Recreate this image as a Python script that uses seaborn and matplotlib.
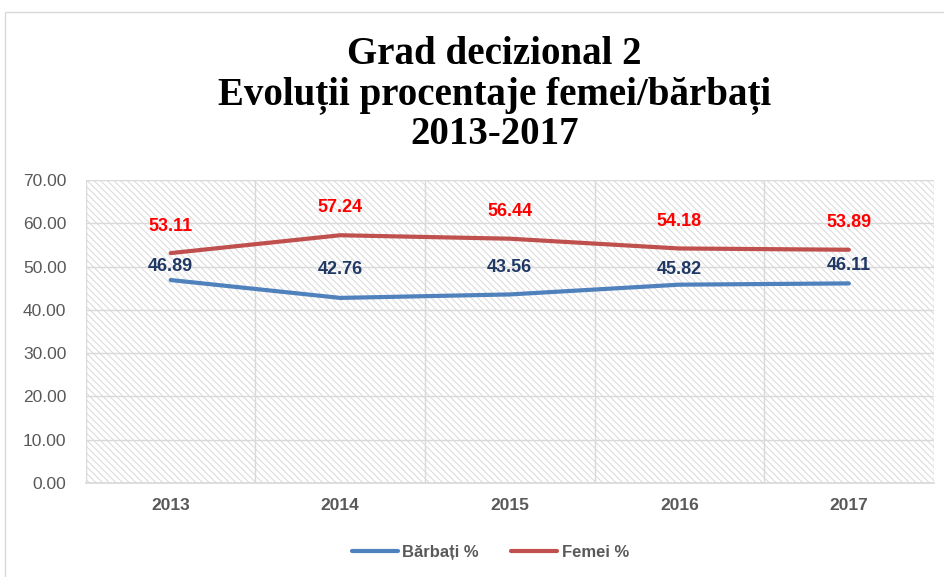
import matplotlib
matplotlib.use("Agg")
import matplotlib.pyplot as plt
import seaborn as sns
import pandas as pd
from matplotlib.patches import Rectangle

# data
years = ["2013", "2014", "2015", "2016", "2017"]
barbati = [46.89, 42.76, 43.56, 45.82, 46.11]
femei = [53.11, 57.24, 56.44, 54.18, 53.89]
# label lift above the line, in pixels
barbati_lift = [14, 28, 27, 15, 18]
femei_lift = [27, 28, 27, 27, 27]

blue = "#4F81BD"
red = "#C0504D"

sns.set_theme(style="white")
plt.rcParams["font.family"] = ["Liberation Sans", "DejaVu Sans"]
plt.rcParams["hatch.color"] = "#DCDCDC"
plt.rcParams["hatch.linewidth"] = 0.8

df = pd.DataFrame({"year": years * 2,
                   "pct": barbati + femei,
                   "serie": ["Bărbați %"] * 5 + ["Femei %"] * 5})
df["x"] = list(range(5)) * 2

fig = plt.figure(figsize=(9.44, 5.77), dpi=100)
ax = fig.add_axes([0.091, 0.163, 0.898, 0.525])

# hatched plot background
ax.add_patch(Rectangle((0, 0), 1, 1, transform=ax.transAxes, facecolor="white",
                       hatch="\\\\\\\\\\", edgecolor="#DCDCDC", linewidth=0, zorder=0))

sns.lineplot(data=df, x="x", y="pct", hue="serie", palette=[blue, red],
             linewidth=3, ax=ax, zorder=3, legend=True)

for i in range(5):
    ax.annotate(f"{barbati[i]:.2f}", (i, barbati[i]), xytext=(0, barbati_lift[i]),
                textcoords="offset pixels", ha="center", va="center",
                color="#1F3864", fontsize=13, fontweight="bold", zorder=4)
    ax.annotate(f"{femei[i]:.2f}", (i, femei[i]), xytext=(0, femei_lift[i]),
                textcoords="offset pixels", ha="center", va="center",
                color="#FF0000", fontsize=13, fontweight="bold", zorder=4)

ax.set_xlim(-0.5, 4.5)
ax.set_ylim(0, 70)
ax.set_yticks(range(0, 71, 10))
ax.set_yticklabels([f"{v:.2f}" for v in range(0, 71, 10)], color="#595959", fontsize=12.5)
ax.set_xticks(range(5))
ax.set_xticklabels(years, color="#595959", fontsize=12.5, fontweight="bold")
ax.set_xticks([i + 0.5 for i in range(-1, 5)], minor=True)
ax.grid(True, axis="y", color="#D9D9D9", linewidth=1, zorder=1)
ax.grid(True, axis="x", which="minor", color="#D9D9D9", linewidth=1, zorder=1)
ax.grid(False, axis="x", which="major")
ax.tick_params(axis="y", which="both", length=0, pad=14)
ax.tick_params(axis="x", which="both", length=0, pad=11)
ax.set_xlabel("")
ax.set_ylabel("")
for s in ["top", "right", "left"]:
    ax.spines[s].set_visible(False)
ax.spines["bottom"].set_color("#D9D9D9")
ax.set_axisbelow(True)

leg = ax.legend(loc="upper center", bbox_to_anchor=(0.477, -0.155), ncol=2,
                frameon=False, handlelength=2.8, handletextpad=0.25, columnspacing=1.9,
                prop={"weight": "bold", "size": 12})
for t in leg.get_texts():
    t.set_color("#595959")

fig.text(0.524, 0.836, "Grad decizional 2\nEvoluții procentaje femei/bărbați\n2013-2017",
         ha="center", va="center", fontsize=28, fontweight="bold", color="black",
         family=["Liberation Serif", "DejaVu Serif"], linespacing=1.1)

# chart border
fig.add_artist(Rectangle((0.005, -0.02), 1.1, 1.0, transform=fig.transFigure,
                         fill=False, edgecolor="#D9D9D9", linewidth=1))

fig.savefig("out.png", dpi=100)
